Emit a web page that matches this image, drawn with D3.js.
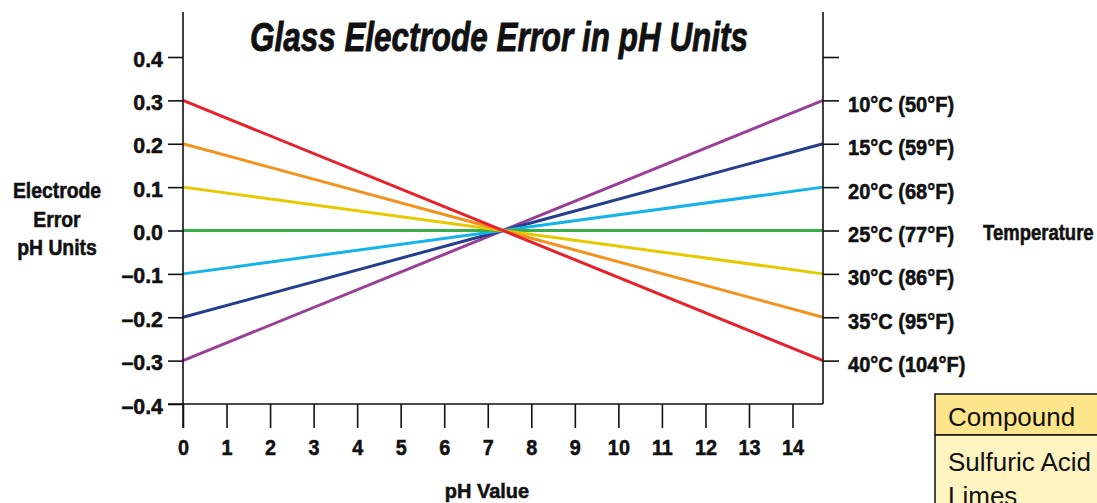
<!DOCTYPE html>
<html><head><meta charset="utf-8">
<script src="https://cdn.jsdelivr.net/npm/d3@7"></script>
<style>
body{margin:0;background:#fff;}
svg{display:block;}
.cond{font-family:"Liberation Sans",Arial,Helvetica,sans-serif;font-weight:bold;stroke:#111;stroke-width:0.55px;paint-order:stroke;}
</style></head>
<body>
<script>
// ---- data ----
const phTicks = [0,1,2,3,4,5,6,7,8,9,10,11,12,13,14];
const errorTicks = [0.4,0.3,0.2,0.1,0.0,-0.1,-0.2,-0.3,-0.4];
const errorTickLabels = ["0.4","0.3","0.2","0.1","0.0","\u20130.1","\u20130.2","\u20130.3","\u20130.4"];
const temperatures = ["10°C (50°F)","15°C (59°F)","20°C (68°F)","25°C (77°F)","30°C (86°F)","35°C (95°F)","40°C (104°F)"];
const errorAtPh0 = [-0.3,-0.2,-0.1,0.0,0.1,0.2,0.3];
const errorAtPhEnd = [0.3,0.2,0.1,0.0,-0.1,-0.2,-0.3];
const phStart = 0, phEnd = 14.7;
const lineColors = ["#9a3f97","#263f8d","#14b4e8","#3bae49","#e6c900","#f3931f","#e8202a"];
const tableHeader = ["Compound"];
const tableRows = ["Sulfuric Acid","Limes"];

// ---- helpers ----
function squeeze(sel, f){
  sel.each(function(){
    const L = this.getComputedTextLength();
    d3.select(this).attr("textLength", L*f).attr("lengthAdjust","spacingAndGlyphs");
  });
}

// ---- chart ----
const W = 1097, H = 503;
const svg = d3.select("body").append("svg").attr("width", W).attr("height", H);
const x = d3.scaleLinear().domain([phStart, phEnd]).range([183, 823]);
const y = d3.scaleLinear().domain([-0.4, 0.4]).range([404, 57]);

// lines
const series = temperatures.map((t,i)=>({t, pts:[[phStart,errorAtPh0[i]],[phEnd,errorAtPhEnd[i]]], c:lineColors[i]}));
const line = d3.line().x(d=>x(d[0])).y(d=>y(d[1]));
svg.append("g").selectAll("path").data(series).join("path")
  .attr("d", d=>line(d.pts)).attr("fill","none").attr("stroke", d=>d.c).attr("stroke-width",3);

// left axis
const yl = d3.axisLeft(y).tickValues(errorTicks).tickSize(15).tickFormat((d,i)=>errorTickLabels[i]);
const gl = svg.append("g").attr("transform","translate(183,0)").call(yl);
gl.select(".domain").remove();
gl.append("line").attr("x1",0).attr("x2",0).attr("y1",12).attr("y2",428).attr("stroke","#111").attr("stroke-width",1.6);
gl.selectAll(".tick line").attr("stroke","#111").attr("stroke-width",1.6);
gl.selectAll(".tick text").attr("class","cond").attr("font-size",22.5).attr("fill","#111")
  .attr("x",-20).attr("dy",null).attr("y",9);
squeeze(gl.selectAll(".tick text"), 0.95);

// right axis
const rightVals = [0.4].concat(errorAtPhEnd);
const rightLabels = [""].concat(temperatures);
const yr = d3.axisRight(y).tickValues(rightVals).tickSize(16).tickFormat((d,i)=>rightLabels[i]);
const gr = svg.append("g").attr("transform","translate(823,0)").call(yr);
gr.select(".domain").remove();
gr.append("line").attr("x1",0).attr("x2",0).attr("y1",12).attr("y2",404).attr("stroke","#111").attr("stroke-width",1.6);
gr.selectAll(".tick line").attr("stroke","#111").attr("stroke-width",1.6);
gr.selectAll(".tick text").attr("class","cond").attr("font-size",22.5).attr("fill","#111")
  .attr("x",25).attr("dy",null).attr("y",11);
squeeze(gr.selectAll(".tick text").filter(function(){return this.textContent.length>0;}), 0.89);

// bottom axis
const xb = d3.axisBottom(x).tickValues(phTicks).tickSize(24).tickFormat(d3.format("d"));
const gb = svg.append("g").attr("transform","translate(0,404)").call(xb);
gb.select(".domain").remove();
gb.append("line").attr("x1",168).attr("x2",823).attr("y1",0).attr("y2",0).attr("stroke","#111").attr("stroke-width",1.6);
gb.selectAll(".tick line").attr("stroke","#111").attr("stroke-width",1.6);
gb.selectAll(".tick text").attr("class","cond").attr("font-size",22.5).attr("fill","#111")
  .attr("dy",null).attr("y",51);
squeeze(gb.selectAll(".tick text"), 0.88);

// titles
svg.append("text").attr("class","cond").attr("x",499).attr("y",51).attr("text-anchor","middle")
  .attr("font-size",41).attr("font-style","italic").attr("fill","#111").style("stroke-width","0.9px")
  .attr("textLength",498).attr("lengthAdjust","spacingAndGlyphs")
  .text("Glass Electrode Error in pH Units");
const xt = svg.append("text").attr("class","cond").attr("x",487).attr("y",498).attr("text-anchor","middle")
  .attr("font-size",21).attr("fill","#111").text("pH Value");
squeeze(xt, 0.95);
const yt = svg.append("g");
yt.selectAll("text").data(["Electrode","Error","pH Units"]).join("text").attr("class","cond")
  .attr("text-anchor","middle").attr("font-size",21.5).attr("fill","#111")
  .attr("x",57).attr("y",(d,i)=>198+i*28.5).text(d=>d);
squeeze(yt.selectAll("text"), 0.9);
const tt = svg.append("text").attr("class","cond").attr("x",983).attr("y",240).attr("font-size",21.5).attr("fill","#111").text("Temperature");
squeeze(tt, 0.86);

// table fragment
const tg = svg.append("g");
tg.append("rect").attr("x",935).attr("y",394).attr("width",200).attr("height",41).attr("fill","#fde58c").attr("stroke","#111").attr("stroke-width",1.5);
tg.append("rect").attr("x",935).attr("y",435).attr("width",200).attr("height",100).attr("fill","#fef4c2").attr("stroke","#111").attr("stroke-width",1.5);
tg.selectAll("text.h").data(tableHeader).join("text").attr("class","h").attr("x",948).attr("y",426)
  .attr("font-family","Liberation Sans, Arial, sans-serif").attr("font-size",26).attr("fill","#111").text(d=>d);
tg.selectAll("text.r").data(tableRows).join("text").attr("class","r").attr("x",948).attr("y",(d,i)=>471+i*34)
  .attr("font-family","Liberation Sans, Arial, sans-serif").attr("font-size",26).attr("fill","#111").text(d=>d);
</script>
</body></html>
